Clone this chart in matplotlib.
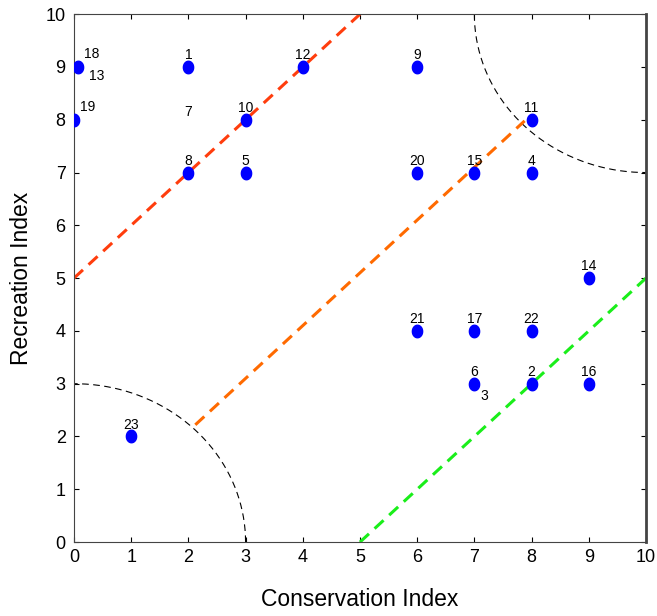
import numpy as np
import matplotlib
matplotlib.use('Agg')
import matplotlib.pyplot as plt
from matplotlib.path import Path

plt.rcParams['font.family'] = ['Liberation Sans', 'DejaVu Sans']

# site scores
site_ids = ['1', '2', '4', '5', '6', '8', '9', '10', '11', '12', '14',
            '15', '16', '17', '18', '19', '20', '21', '22', '23']
conservation = [2, 8, 8, 3, 7, 2, 6, 3, 8, 4, 9, 7, 9, 7, 0.07, 0, 6, 6, 8, 1]
recreation = [9, 3, 7, 7, 3, 7, 9, 8, 8, 9, 5, 7, 3, 4, 9, 8, 7, 4, 4, 2]

# labels for overlapping sites (no visible marker)
extra_ids = ['13', '7', '3']
extra_x = [0.4, 2.0, 7.17]
extra_y = [8.82, 8.15, 2.77]

ticks = list(range(0, 11))
radius = 3

# slightly tall ellipse marker
t = np.linspace(0, 2 * np.pi, 60)
ell = Path(np.column_stack([0.82 * np.cos(t), np.sin(t)]), closed=True)

fig = plt.figure(figsize=(6.57, 6.16), dpi=100)
ax = fig.add_axes([0.1126, 0.120, 0.8706, 0.857])

# quarter circles
th = np.linspace(0, np.pi / 2, 200)
ax.plot(radius * np.cos(th), radius * np.sin(th), color='black', lw=0.8, ls=(0, (6, 4)))
ax.plot(10 - radius * np.cos(th), 10 - radius * np.sin(th), color='black', lw=0.8, ls=(0, (6, 4)))

# trend lines
ax.plot([0, 5], [5, 10], color='#ff3d0d', lw=2.2, ls=(0, (4, 2.5)))
c45 = radius * np.cos(np.pi / 4)
ax.plot([c45, 10 - c45], [c45 + 0.1, 10 - c45 + 0.1], color='#ff6a00', lw=2.2, ls=(0, (4, 2.5)))
ax.plot([5, 10], [0, 5], color='#1aee1a', lw=2.2, ls=(0, (4, 2.5)))

ax.plot(conservation, recreation, ls='none', marker=ell, color='#0000ff',
        markersize=9, zorder=5)

for sid, cx, ry in zip(site_ids, conservation, recreation):
    if sid in ('18', '19'):
        ax.annotate(sid, (cx, ry), xytext=(4, 4), textcoords='offset points',
                    ha='left', va='bottom', fontsize=10)
    else:
        ax.annotate(sid, (cx, ry), xytext=(0, 3.5), textcoords='offset points',
                    ha='center', va='bottom', fontsize=10)
for sid, cx, ry in zip(extra_ids, extra_x, extra_y):
    ax.text(cx, ry, sid, ha='center', va='center', fontsize=10)

ax.set_xlim(0, 10)
ax.set_ylim(0, 10)
ax.set_xticks(ticks)
ax.set_yticks(ticks)
ax.tick_params(direction='in', top=True, right=True, labelsize=13, length=3.5)
ax.tick_params(axis='y', pad=6)
ax.tick_params(axis='x', pad=5)
for s in ax.spines.values():
    s.set_color('#444444')
ax.spines['right'].set_linewidth(2)

ax.set_xlabel('Conservation Index', fontsize=16.5, labelpad=16)
ax.set_ylabel('Recreation Index', fontsize=16.5, labelpad=9)

fig.savefig('out.png', dpi=100)
